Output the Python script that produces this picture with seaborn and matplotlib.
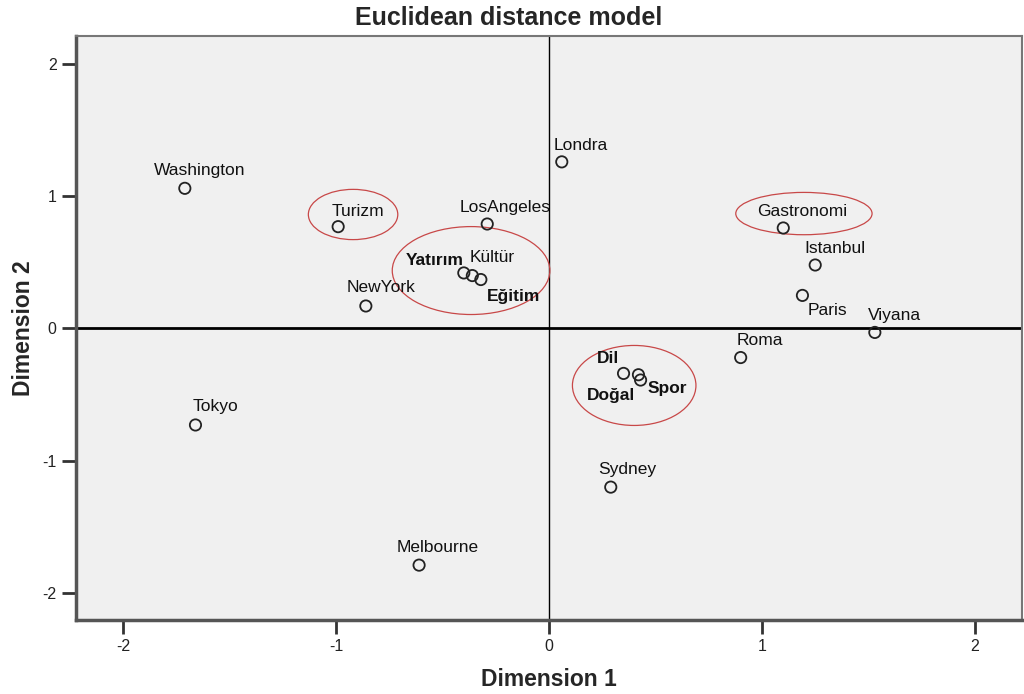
import matplotlib
matplotlib.use("Agg")
import matplotlib.pyplot as plt
from matplotlib.patches import Ellipse
import seaborn as sns
import pandas as pd

# Stimulus coordinates from the MDS solution
names = ["Washington", "Turizm", "LosAngeles", "Yatırım", "Kültür", "Eğitim",
         "NewYork", "Londra", "Gastronomi", "Istanbul", "Paris", "Viyana",
         "Roma", "Dil", "Doğal", "Spor", "Tokyo", "Sydney", "Melbourne"]
dim1 = [-1.71, -0.99, -0.29, -0.40, -0.36, -0.32,
        -0.86, 0.06, 1.10, 1.25, 1.19, 1.53,
        0.90, 0.35, 0.42, 0.43, -1.66, 0.29, -0.61]
dim2 = [1.06, 0.77, 0.79, 0.42, 0.40, 0.37,
        0.17, 1.26, 0.76, 0.48, 0.25, -0.03,
        -0.22, -0.34, -0.35, -0.39, -0.73, -1.20, -1.79]

# Label offsets in points (left edge, vertical centre) relative to each marker
label_dx = [-22, -5, -20, -42, -2, 4, -14, -6, -19, -8, 4, -5, -3, -19, -37, 5, -2, -9, -16]
label_dy = [13, 11, 12, 9, 13, -12, 13, 12, 12, 12, -11, 12, 12, 11, -15, -6, 13, 13, 13]
bold_labels = {"Yatırım", "Eğitim", "Dil", "Doğal", "Spor"}

# Highlight rings around the attribute groups: (x, y, width, height)
rings = [(-0.92, 0.862, 0.42, 0.38),
         (-0.366, 0.438, 0.74, 0.665),
         (1.197, 0.869, 0.64, 0.32),
         (0.40, -0.431, 0.58, 0.605)]

df = pd.DataFrame({"name": names, "d1": dim1, "d2": dim2})

sns.set_theme(style="white")
plt.rcParams["font.family"] = ["Liberation Sans", "DejaVu Sans"]
plt.rcParams["axes.unicode_minus"] = False

fig = plt.figure(figsize=(10.24, 6.94), dpi=100)
ax = fig.add_axes([76 / 1024, 1 - 620 / 694, (1022 - 76) / 1024, (620 - 36) / 694])
ax.set_facecolor("#f0f0f0")

ax.axvline(0, color="black", lw=1.0, zorder=1)
ax.axhline(0, color="black", lw=2.0, zorder=1)

sns.scatterplot(data=df, x="d1", y="d2", ax=ax, s=66, marker="o",
                facecolor="none", edgecolor="#222222", linewidth=1.3, zorder=3)

for n, x, y, dx, dy in zip(names, dim1, dim2, label_dx, label_dy):
    ax.annotate(n, (x, y), xytext=(dx, dy), textcoords="offset points",
                ha="left", va="center", fontsize=12.5, color="#111111",
                fontweight="bold" if n in bold_labels else "normal", zorder=4)

for cx, cy, w, h in rings:
    ax.add_patch(Ellipse((cx, cy), w, h, fill=False, edgecolor="#c84848",
                         lw=0.9, zorder=2))

ax.set_xlim(-2.221, 2.221)
ax.set_ylim(-2.205, 2.212)
ax.set_xticks([-2, -1, 0, 1, 2])
ax.set_yticks([-2, -1, 0, 1, 2])
ax.tick_params(axis="both", direction="out", length=10, width=2, color="#333333",
               labelsize=11.5, labelcolor="#222222", pad=4)
ax.tick_params(axis="x", bottom=True)
ax.tick_params(axis="y", left=True)

for side in ["left", "bottom"]:
    ax.spines[side].set_color("#555555")
    ax.spines[side].set_linewidth(2.5)
for side in ["top", "right"]:
    ax.spines[side].set_color("#777777")
    ax.spines[side].set_linewidth(1.5)

ax.set_xlabel("Dimension 1", fontsize=16.5, fontweight="bold", labelpad=10)
ax.set_ylabel("Dimension 2", fontsize=16.5, fontweight="bold", labelpad=5)
fig.suptitle("Euclidean distance model", x=0.497, y=1 - 18 / 694, va="center",
             fontsize=18, fontweight="bold")

fig.savefig("out.png", dpi=100)
